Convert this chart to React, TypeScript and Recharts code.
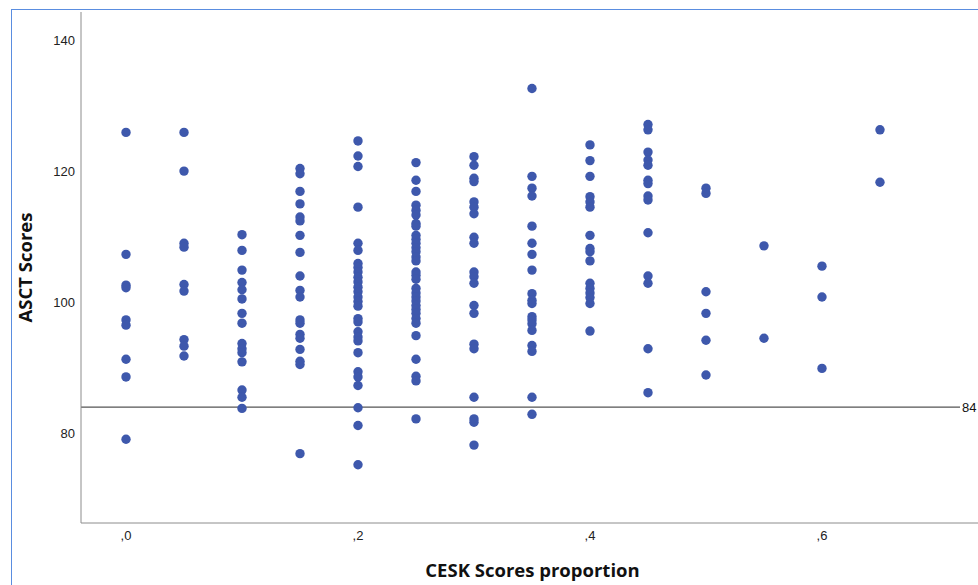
import React from 'react';
import { ScatterChart, Scatter, XAxis, YAxis, ReferenceLine } from 'recharts';

// CESK Scores proportion categories
const proportions = [0, 0.05, 0.1, 0.15, 0.2, 0.25, 0.3, 0.35, 0.4, 0.45, 0.5, 0.55, 0.6, 0.65];

// ASCT Scores per proportion
const asct000 = [125.9, 107.3, 102.6, 102.2, 97.3, 96.5, 91.3, 88.6, 79.1];
const asct005 = [125.9, 120.0, 109.0, 108.4, 102.7, 101.7, 94.3, 93.3, 91.8];
const asct010 = [110.3, 107.9, 104.9, 103.0, 101.9, 100.5, 98.3, 96.8, 93.7, 92.9, 92.3, 90.9, 86.6, 85.5, 83.8];
const asct015 = [120.4, 119.6, 116.9, 115.0, 113.0, 112.4, 110.2, 107.6, 104.0, 101.8, 100.8, 97.3, 96.8, 95.1, 94.5, 92.8, 91.0, 90.5, 76.9];
const asct020 = [124.6, 122.3, 120.7, 114.5, 109.0, 107.9, 105.9, 105.3, 104.6, 103.8, 103.1, 102.3, 101.6, 100.8, 100.1, 99.4, 97.5, 97.0, 95.5, 94.7, 94.1, 92.3, 89.4, 88.6, 87.3, 83.9, 81.2, 75.2];
const asct025 = [121.3, 118.6, 116.9, 114.8, 114.0, 113.3, 112.0, 111.6, 110.2, 109.6, 109.0, 108.3, 107.7, 106.9, 106.3, 104.6, 104.1, 103.5, 102.1, 101.4, 100.8, 100.2, 99.5, 98.9, 98.3, 97.5, 96.8, 94.9, 91.3, 88.7, 88.0, 82.2];
const asct030 = [122.2, 120.9, 118.9, 118.4, 115.3, 114.5, 113.5, 109.9, 109.0, 104.6, 103.9, 102.9, 99.5, 98.3, 93.6, 92.9, 85.5, 82.2, 81.7, 78.2];
const asct035 = [132.6, 119.2, 117.4, 116.2, 111.6, 109.0, 107.3, 104.9, 101.3, 100.3, 99.8, 97.8, 97.3, 96.7, 95.7, 93.4, 92.5, 85.5, 82.9];
const asct040 = [124.0, 121.6, 119.2, 116.1, 115.3, 114.5, 110.2, 108.2, 107.7, 106.3, 102.9, 102.1, 101.4, 100.7, 99.8, 95.6];
const asct045 = [127.1, 126.3, 122.9, 121.7, 120.9, 118.6, 118.1, 116.2, 115.6, 110.6, 104.0, 102.9, 92.9, 86.2];
const asct050 = [117.4, 116.6, 101.6, 98.3, 94.2, 88.9];
const asct055 = [108.6, 94.5];
const asct060 = [105.5, 100.8, 89.9];
const asct065 = [126.3, 118.3];

const asctByProportion = [
  asct000, asct005, asct010, asct015, asct020, asct025, asct030,
  asct035, asct040, asct045, asct050, asct055, asct060, asct065,
];

// Axes
const xTicks = [0, 0.2, 0.4, 0.6];
const xTickLabels = [',0', ',2', ',4', ',6'];
const yTicks = [80, 100, 120, 140];
const xDomain = [-0.0388, 0.7345];
const yDomain = [66.32, 144.27];

// Reference line
const refValue = 84;
const refLabel = '84';
const refLineEnd = 0.7190;

const points = proportions.flatMap((p, i) =>
  asctByProportion[i].map((v) => ({ x: p, y: v }))
);

const DOT = '#3e58ac';

const Dot = (props: any) => {
  const { cx, cy } = props;
  if (cx == null || cy == null) return null;
  return <circle cx={cx} cy={cy} r={4.7} fill={DOT} />;
};

export default function App() {
  return (
    <div style={{ position: 'absolute', left: 0, top: 0, width: 978, height: 585, overflow: 'hidden', background: '#fff' }}>
      <div
        style={{
          position: 'absolute',
          left: 11,
          top: 9,
          right: 0,
          bottom: 0,
          borderLeft: '1px solid #5a8de0',
          borderTop: '1px solid #5a8de0',
        }}
      />
      <div style={{ position: 'absolute', left: 0, top: 0 }}>
        <ScatterChart width={978} height={585} margin={{ top: 12, right: 0, bottom: 0, left: 0 }}>
          <XAxis
            type="number"
            dataKey="x"
            domain={xDomain}
            allowDataOverflow
            ticks={xTicks}
            tickFormatter={(v: number) => xTickLabels[xTicks.indexOf(v)] ?? ''}
            height={62}
            tickLine={false}
            axisLine={{ stroke: '#8c8c8c', strokeWidth: 1 }}
            tick={{ fill: '#222', fontSize: 13, fontFamily: 'Liberation Sans, Arial, sans-serif' }}
            tickSize={6}
            tickMargin={2}
            label={{
              value: 'CESK Scores proportion',
              position: 'insideBottom',
              offset: 8,
              dx: 3,
              style: { fill: '#111', fontSize: 18.5, fontWeight: 700, fontFamily: 'Open Sans, sans-serif' },
            }}
          />
          <YAxis
            type="number"
            dataKey="y"
            domain={yDomain}
            allowDataOverflow
            ticks={yTicks}
            width={81}
            tickLine={false}
            axisLine={{ stroke: '#8c8c8c', strokeWidth: 1 }}
            tick={{ fill: '#222', fontSize: 13, fontFamily: 'Liberation Sans, Arial, sans-serif' }}
            tickSize={6}
            tickMargin={0}
            label={{
              value: 'ASCT Scores',
              angle: -90,
              position: 'insideLeft',
              offset: 5,
              dx: 20,
              style: { textAnchor: 'middle', fill: '#111', fontSize: 18.5, fontWeight: 700, fontFamily: 'Open Sans, sans-serif' },
            }}
          />
          <ReferenceLine
            segment={[{ x: xDomain[0], y: refValue }, { x: refLineEnd, y: refValue }]}
            stroke="#555"
            strokeWidth={1.3}
            label={{ value: refLabel, position: 'right', offset: 2, fill: '#111', fontSize: 13, fontFamily: 'Liberation Sans, Arial, sans-serif' }}
          />
          <Scatter data={points} fill={DOT} shape={<Dot />} isAnimationActive={false} />
        </ScatterChart>
      </div>
    </div>
  );
}
